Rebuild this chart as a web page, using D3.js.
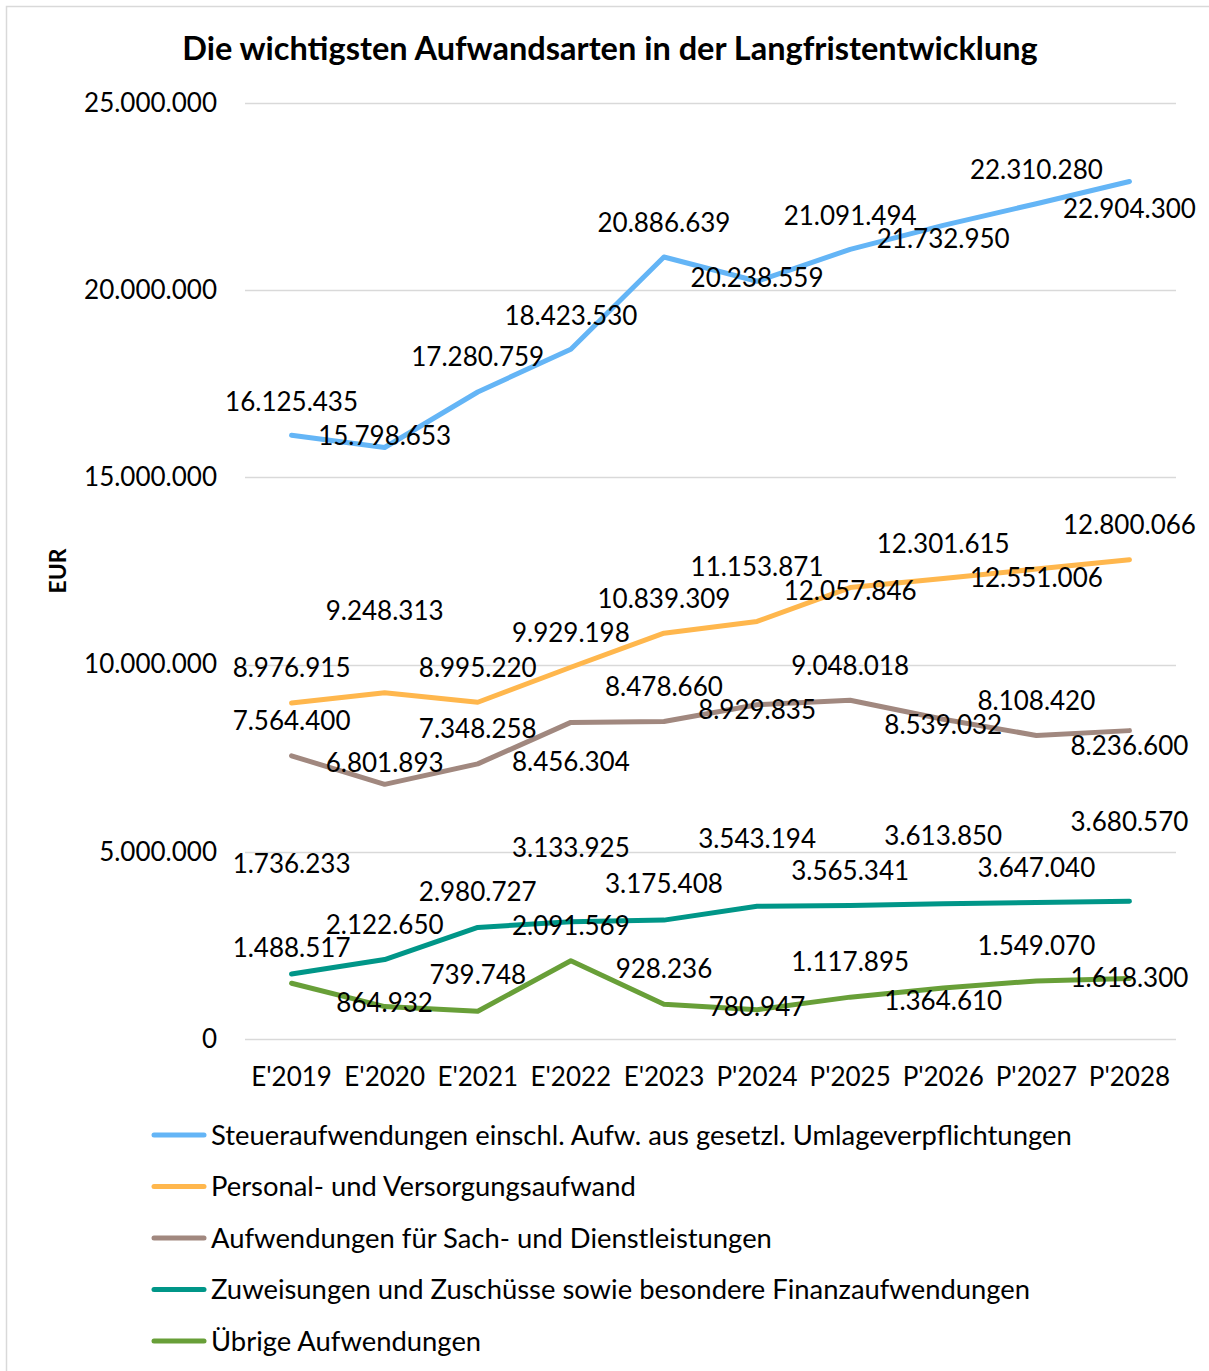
<!DOCTYPE html>
<html>
<head>
<meta charset="utf-8">
<script src="https://cdn.jsdelivr.net/npm/d3@7"></script>
<style>
  html, body { margin: 0; padding: 0; background: #fff; }
  svg text { font-family: Lato, "Open Sans", sans-serif; fill: #000; }
</style>
</head>
<body>
<div id="chart"></div>
<script>
// categories (years), E = Ergebnis, P = Planung
var years = ["E'2019", "E'2020", "E'2021", "E'2022", "E'2023", "P'2024", "P'2025", "P'2026", "P'2027", "P'2028"];

var steuer = [16125435, 15798653, 17280759, 18423530, 20886639, 20238559, 21091494, 21732950, 22310280, 22904300];
var personal = [8976915, 9248313, 8995220, 9929198, 10839309, 11153871, 12057846, 12301615, 12551006, 12800066];
var sach = [7564400, 6801893, 7348258, 8456304, 8478660, 8929835, 9048018, 8539032, 8108420, 8236600];
var zuweisungen = [1736233, 2122650, 2980727, 3133925, 3175408, 3543194, 3565341, 3613850, 3647040, 3680570];
var uebrige = [1488517, 864932, 739748, 2091569, 928236, 780947, 1117895, 1364610, 1549070, 1618300];

var seriesNames = [
    "Steueraufwendungen einschl. Aufw. aus gesetzl. Umlageverpflichtungen",
    "Personal- und Versorgungsaufwand",
    "Aufwendungen für Sach- und Dienstleistungen",
    "Zuweisungen und Zuschüsse sowie besondere Finanzaufwendungen",
    "Übrige Aufwendungen"
];
var seriesColors = ["#64b5f6", "#ffb74d", "#a1887f", "#009688", "#689f38"];

var yTicks = [0, 5000000, 10000000, 15000000, 20000000, 25000000];

// label offsets in px (label centre relative to the point), as placed in the original
var labelShift = [
    [-34, -12, -35, -34, -34, -4, -34, 13, -34, 27],
    [-35, -82, -35, -35, -35, -55, 3, -35, 9, -35],
    [-35, -22, -35, 39, -35, 5, -35, 5, -35, 15],
    [-110, -35, -36, -74, -36, -68, -35, -68, -35, -80],
    [-36, -4, -37, -35, -36, -3, -36, 13, -35, -1]
];

var allSeries = [steuer, personal, sach, zuweisungen, uebrige];

var W = 1209, H = 1371;
var margin = { top: 103, right: 33, bottom: 332, left: 245 };
var width = W - margin.left - margin.right;
var height = H - margin.top - margin.bottom;

// german number format 1.234.567
var de = d3.formatLocale({ decimal: ",", thousands: ".", grouping: [3], currency: ["", " €"] });
var fmt = de.format(",.0f");

var svgRoot = d3.select("#chart")
    .append("svg")
    .attr("width", W)
    .attr("height", H);

// outer frame (cut off on the right and bottom)
svgRoot.append("rect")
    .attr("x", 6.5)
    .attr("y", 6.5)
    .attr("width", W + 20)
    .attr("height", H + 20)
    .attr("fill", "none")
    .attr("stroke", "#d9d9d9")
    .attr("stroke-width", 1.5);

var svg = svgRoot.append("g")
    .attr("transform", "translate(" + margin.left + "," + margin.top + ")");

var x = d3.scaleBand()
    .domain(years)
    .range([0, width]);

var y = d3.scaleLinear()
    .domain([0, 25000000])
    .range([height, 0]);

// grid
svg.append("g")
    .selectAll("line")
    .data(yTicks)
    .enter()
    .append("line")
    .attr("x1", 0)
    .attr("x2", width)
    .attr("y1", function (d) { return Math.round(y(d)) + 0.5; })
    .attr("y2", function (d) { return Math.round(y(d)) + 0.5; })
    .attr("stroke", "#d9d9d9")
    .attr("stroke-width", 1.5);

// y axis
var yaxis = svg.append("g")
    .attr("class", "y axis")
    .call(d3.axisLeft(y).tickValues(yTicks).tickSize(0).tickPadding(28).tickFormat(fmt));
yaxis.select("path").remove();
yaxis.selectAll("text")
    .attr("font-size", "26px")
    .style("font-family", "Lato, sans-serif")
    .attr("fill", "#000");

// x axis
var xaxis = svg.append("g")
    .attr("class", "x axis")
    .attr("transform", "translate(0," + height + ")")
    .call(d3.axisBottom(x).tickSize(0).tickPadding(29));
xaxis.select("path").remove();
xaxis.selectAll("text")
    .attr("font-size", "26px")
    .style("font-family", "Lato, sans-serif")
    .attr("fill", "#000");

// lines
var line = d3.line()
    .x(function (d, i) { return x(years[i]) + x.bandwidth() / 2; })
    .y(function (d) { return y(d); });

svg.append("g")
    .selectAll("path")
    .data(allSeries)
    .enter()
    .append("path")
    .attr("d", function (d) { return line(d); })
    .attr("fill", "none")
    .attr("stroke", function (d, i) { return seriesColors[i]; })
    .attr("stroke-width", 5)
    .attr("stroke-linejoin", "round")
    .attr("stroke-linecap", "round");

// data labels
allSeries.forEach(function (values, s) {
    svg.append("g")
        .selectAll("text")
        .data(values)
        .enter()
        .append("text")
        .attr("x", function (d, i) { return x(years[i]) + x.bandwidth() / 2; })
        .attr("y", function (d, i) { return y(d) + labelShift[s][i]; })
        .attr("dy", "0.36em")
        .attr("text-anchor", "middle")
        .attr("font-size", "26px")
        .text(function (d) { return fmt(d); });
});

// title
svgRoot.append("text")
    .attr("x", 610)
    .attr("y", 60)
    .attr("text-anchor", "middle")
    .attr("font-size", "32.5px")
    .attr("font-weight", "bold")
    .text("Die wichtigsten Aufwandsarten in der Langfristentwicklung");

// y axis title
svgRoot.append("text")
    .attr("transform", "translate(58,571) rotate(-90)")
    .attr("dy", "0.36em")
    .attr("text-anchor", "middle")
    .attr("font-size", "23px")
    .attr("font-weight", "bold")
    .text("EUR");

// legend
var legend = svgRoot.append("g")
    .attr("transform", "translate(152,1135)");

var item = legend.selectAll("g")
    .data(seriesNames)
    .enter()
    .append("g")
    .attr("transform", function (d, i) { return "translate(0," + (i * 51.5) + ")"; });

item.append("line")
    .attr("x1", 2)
    .attr("x2", 52)
    .attr("y1", 0)
    .attr("y2", 0)
    .attr("stroke", function (d, i) { return seriesColors[i]; })
    .attr("stroke-width", 5)
    .attr("stroke-linecap", "round");

item.append("text")
    .attr("x", 59)
    .attr("dy", "0.36em")
    .attr("font-size", "27.4px")
    .text(function (d) { return d; });
</script>
</body>
</html>
